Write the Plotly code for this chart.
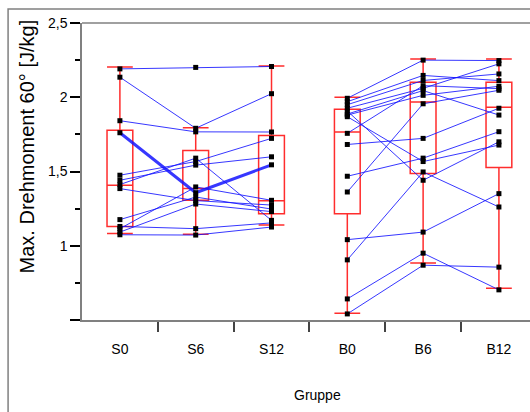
import plotly.graph_objects as go

# Groups on the x axis
groups = ["S0", "S6", "S12", "B0", "B6", "B12"]

# Per-subject values, S cohort (same subject at the same list index)
s0 = [2.191, 2.135, 1.842, 1.761, 1.475, 1.441, 1.412, 1.385, 1.176, 1.130, 1.115, 1.092, 1.074]
s6 = [2.201, 1.791, 1.767, 1.357, 1.567, 1.543, 1.590, 1.304, 1.328, 1.115, 1.396, 1.281, 1.072]
s12 = [2.207, 2.024, 1.766, 1.545, 1.723, 1.599, 1.171, 1.274, 1.247, 1.154, 1.306, 1.230, 1.126]
s_highlight = 3

# Per-subject values, B cohort
b0 = [1.993, 1.970, 1.950, 1.926, 1.887, 1.880, 1.907, 1.869, 1.682, 1.468, 1.041, 0.905, 0.642, 0.541, 1.362, 1.757]
b6 = [2.250, 2.147, 2.113, 2.060, 2.045, 2.013, 1.441, 1.567, 1.723, 1.590, 1.092, 1.497, 0.950, 0.869, 1.956, 2.078]
b12 = [2.247, 2.112, 2.157, 2.225, 1.880, 2.074, 1.700, 1.678, 1.926, 1.768, 1.351, 1.261, 0.703, 0.856, 2.047, 2.058]

# Box statistics per group
box_q1 = [1.130, 1.306, 1.216, 1.216, 1.486, 1.527]
box_median = [1.407, 1.385, 1.303, 1.766, 1.968, 1.932]
box_q3 = [1.777, 1.642, 1.743, 1.919, 2.101, 2.101]
box_low = [1.083, 1.078, 1.140, 0.545, 0.883, 0.714]
box_high = [2.203, 1.795, 2.210, 2.000, 2.257, 2.257]

# y axis ticks
y_major = [0.5, 1.0, 1.5, 2.0, 2.5]
y_major_text = ["", "1", "1,5", "2", "2,5"]
y_minor = [0.75, 1.25, 1.75, 2.25]

FONT = "Liberation Sans, Arial, sans-serif"
BOX_COLOR = "rgb(255,45,45)"
LINE_COLOR = "rgba(20,20,255,0.85)"

fig = go.Figure()

for i in range(len(groups)):
    fig.add_trace(go.Box(
        x=[i], q1=[box_q1[i]], median=[box_median[i]], q3=[box_q3[i]],
        lowerfence=[box_low[i]], upperfence=[box_high[i]],
        width=0.34, whiskerwidth=1, boxpoints=False,
        fillcolor="rgba(0,0,0,0)", line=dict(color=BOX_COLOR, width=1.5),
        showlegend=False, hoverinfo="skip",
    ))


def subject_lines(cols, offset, highlight=None):
    for k in range(len(cols[0])):
        ys = [c[k] for c in cols]
        fig.add_trace(go.Scatter(
            x=[offset + j for j in range(len(cols))], y=ys,
            mode="lines+markers",
            line=dict(color=LINE_COLOR, width=3 if k == highlight else 1),
            marker=dict(symbol="square", size=5, color="black"),
            showlegend=False, hoverinfo="skip",
        ))


subject_lines([s0, s6, s12], 0, s_highlight)
subject_lines([b0, b6, b12], 3)

fig.update_layout(
    width=530, height=412,
    margin=dict(l=82, r=0, t=23, b=92),
    paper_bgcolor="white", plot_bgcolor="white",
    font=dict(family=FONT, size=14, color="black"),
    xaxis=dict(
        range=[-0.5, 5.41], tickmode="array",
        tickvals=list(range(len(groups))), ticktext=groups,
        ticks="outside", ticklen=15, tickcolor="rgba(0,0,0,0)",
        tickfont=dict(size=14),
        minor=dict(tickvals=[0.5, 1.5, 2.5, 3.5, 4.5], ticks="outside",
                   ticklen=10, tickwidth=1.5, tickcolor="#444", showgrid=False),
        showline=True, linecolor="#808080", linewidth=1.5,
        showgrid=False, zeroline=False,
    ),
    yaxis=dict(
        range=[0.5, 2.5], tickmode="array",
        tickvals=y_major, ticktext=y_major_text,
        ticks="outside", ticklen=10, tickwidth=2, tickcolor="black",
        tickfont=dict(size=14),
        minor=dict(tickvals=y_minor, ticks="outside", ticklen=5,
                   tickwidth=2, tickcolor="black", showgrid=False),
        showline=True, linecolor="#808080", linewidth=1.5,
        showgrid=False, zeroline=False,
    ),
    shapes=[
        # upper border of the plotting area
        dict(type="line", xref="paper", yref="paper", x0=0, x1=1.05, y0=1, y1=1,
             line=dict(color="#808080", width=1.5)),
        # outer frame around the graphic
        dict(type="rect", xref="paper", yref="paper", x0=-0.165, x1=1.2,
             y0=-0.6, y1=1.047, line=dict(color="#808080", width=1.5)),
    ],
    annotations=[
        dict(text="Max. Drehmoment 60° [J/kg]", xref="paper", yref="paper",
             x=-0.123, y=0.584, textangle=-90, showarrow=False,
             font=dict(size=20), xanchor="center", yanchor="middle"),
        dict(text="Gruppe", xref="paper", yref="paper", x=0.525, y=-0.2525,
             showarrow=False, font=dict(size=14), xanchor="center", yanchor="middle"),
    ],
)

fig.write_html("out.html")
